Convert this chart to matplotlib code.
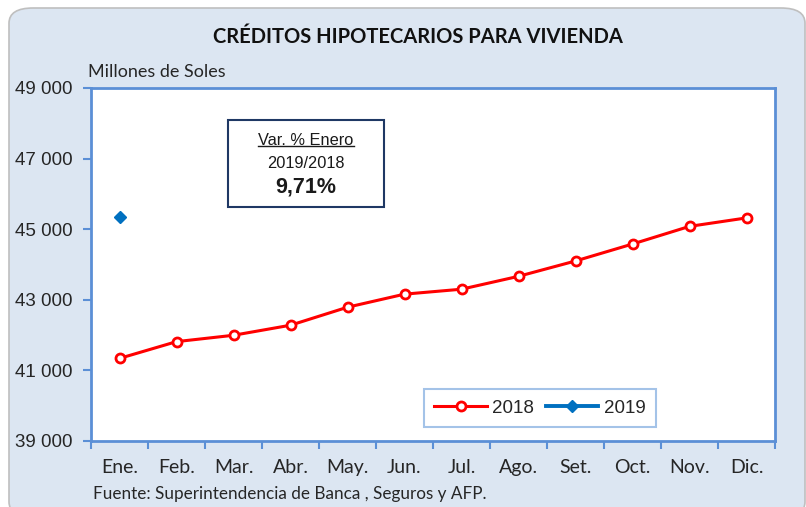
import matplotlib.pyplot as plt
from matplotlib.patches import FancyBboxPatch, Rectangle
from matplotlib.lines import Line2D
from matplotlib.ticker import FuncFormatter, FixedLocator

# Datos (millones de soles)
meses = ["Ene.", "Feb.", "Mar.", "Abr.", "May.", "Jun.", "Jul.", "Ago.", "Set.", "Oct.", "Nov.", "Dic."]
creditos_2018 = [41340, 41815, 41995, 42280, 42790, 43160, 43300, 43665, 44100, 44580, 45080, 45320]
creditos_2019 = [45355]
var_enero = "9,71%"

W, H = 806, 507
fig = plt.figure(figsize=(W / 100, H / 100), dpi=100)
fig.patch.set_facecolor("white")

# fondo redondeado del grafico
panel = FancyBboxPatch((9 / W, -10 / H), (796 / W), (509 / H),
                       boxstyle="round,pad=0,rounding_size=0.03",
                       transform=fig.transFigure, facecolor="#DCE6F2",
                       edgecolor="#BFBFBF", linewidth=1.2, zorder=-1)
fig.patches.append(panel)

ax = fig.add_axes([91 / W, 1 - 441 / H, 684 / W, 353 / H])
ax.set_facecolor("white")

x = list(range(len(meses)))
ax.plot(x, creditos_2018, color="#FF0000", lw=2.2, marker="o", ms=6.5,
        mfc="white", mec="#FF0000", mew=2, label="2018", zorder=3)
ax.plot(x[:len(creditos_2019)], creditos_2019, color="#0070C0", lw=2.8, marker="D",
        ms=6.5, mfc="#0070C0", mec="#0070C0", label="2019", zorder=3)

ax.set_xlim(-0.5, len(meses) - 0.5)
ax.set_ylim(39000, 49000)
ax.set_yticks(range(39000, 49001, 2000))
ax.yaxis.set_major_formatter(FuncFormatter(lambda v, p: f"{int(v):,}".replace(",", " ")))
ax.set_xticks(x)
ax.set_xticklabels(meses, fontfamily="Lato", fontsize=14, color="#262626")
ax.xaxis.set_minor_locator(FixedLocator([i - 0.5 for i in range(len(meses) + 1)]))
ax.tick_params(axis="x", which="major", length=0, pad=13)
ax.tick_params(axis="x", which="minor", length=6, width=1.5, color="#5B8FD6")
ax.tick_params(axis="y", length=6, width=1.5, color="#5B8FD6", labelsize=13.5,
               labelcolor="#262626", pad=7.5)
for lab in ax.get_yticklabels():
    lab.set_fontfamily("Liberation Sans")

for s in ax.spines.values():
    s.set_color("#5B8FD6")
    s.set_linewidth(2)

# titulo y textos
fig.text(418 / W, 1 - 37 / H, "CRÉDITOS HIPOTECARIOS PARA VIVIENDA", ha="center", va="center",
         fontfamily="Lato", fontweight="bold", fontsize=14.5, color="#111111")
fig.text(88 / W, 1 - 72 / H, "Millones de Soles", ha="left", va="center",
         fontfamily="Lato", fontsize=13, color="#262626")
fig.text(93 / W, 1 - 494 / H, "Fuente: Superintendencia de Banca , Seguros y AFP.", ha="left",
         va="center", fontfamily="Lato", fontsize=12.3, color="#262626")

# recuadro de variacion
fig.patches.append(Rectangle((228 / W, 1 - 207 / H), 156 / W, 87 / H, transform=fig.transFigure,
                             facecolor="white", edgecolor="#1F3864", linewidth=1.5, zorder=5))
t1 = fig.text(306 / W, 1 - 140 / H, "Var. % Enero", ha="center", va="center",
              fontfamily="Liberation Sans", fontsize=11.8, color="#1A1A1A", zorder=6)
fig.text(306 / W, 1 - 163 / H, "2019/2018", ha="center", va="center",
         fontfamily="Liberation Sans", fontsize=11.8, color="#1A1A1A", zorder=6)
fig.text(306 / W, 1 - 187 / H, var_enero, ha="center", va="center",
         fontfamily="Liberation Sans", fontweight="bold", fontsize=15.5, color="#1A1A1A", zorder=6)

# subrayado
fig.canvas.draw()
bb = t1.get_window_extent().transformed(fig.transFigure.inverted())
fig.lines.append(Line2D([bb.x0, bb.x1], [bb.y0 + 0.002, bb.y0 + 0.002], transform=fig.transFigure,
                        color="#1A1A1A", lw=1, zorder=7))

leg = ax.legend(loc="lower left", bbox_to_anchor=((424 - 91) / 684, (441 - 427) / 353),
                ncol=2, frameon=True, fancybox=False, prop={"family": "Liberation Sans", "size": 13.5},
                handlelength=2.8, columnspacing=0.6, handletextpad=0.3, borderpad=0.55,
                borderaxespad=0)
leg.get_frame().set_edgecolor("#8EB4E3")
leg.get_frame().set_linewidth(1.5)
for txt in leg.get_texts():
    txt.set_color("#262626")

fig.savefig("out.png", dpi=100)
